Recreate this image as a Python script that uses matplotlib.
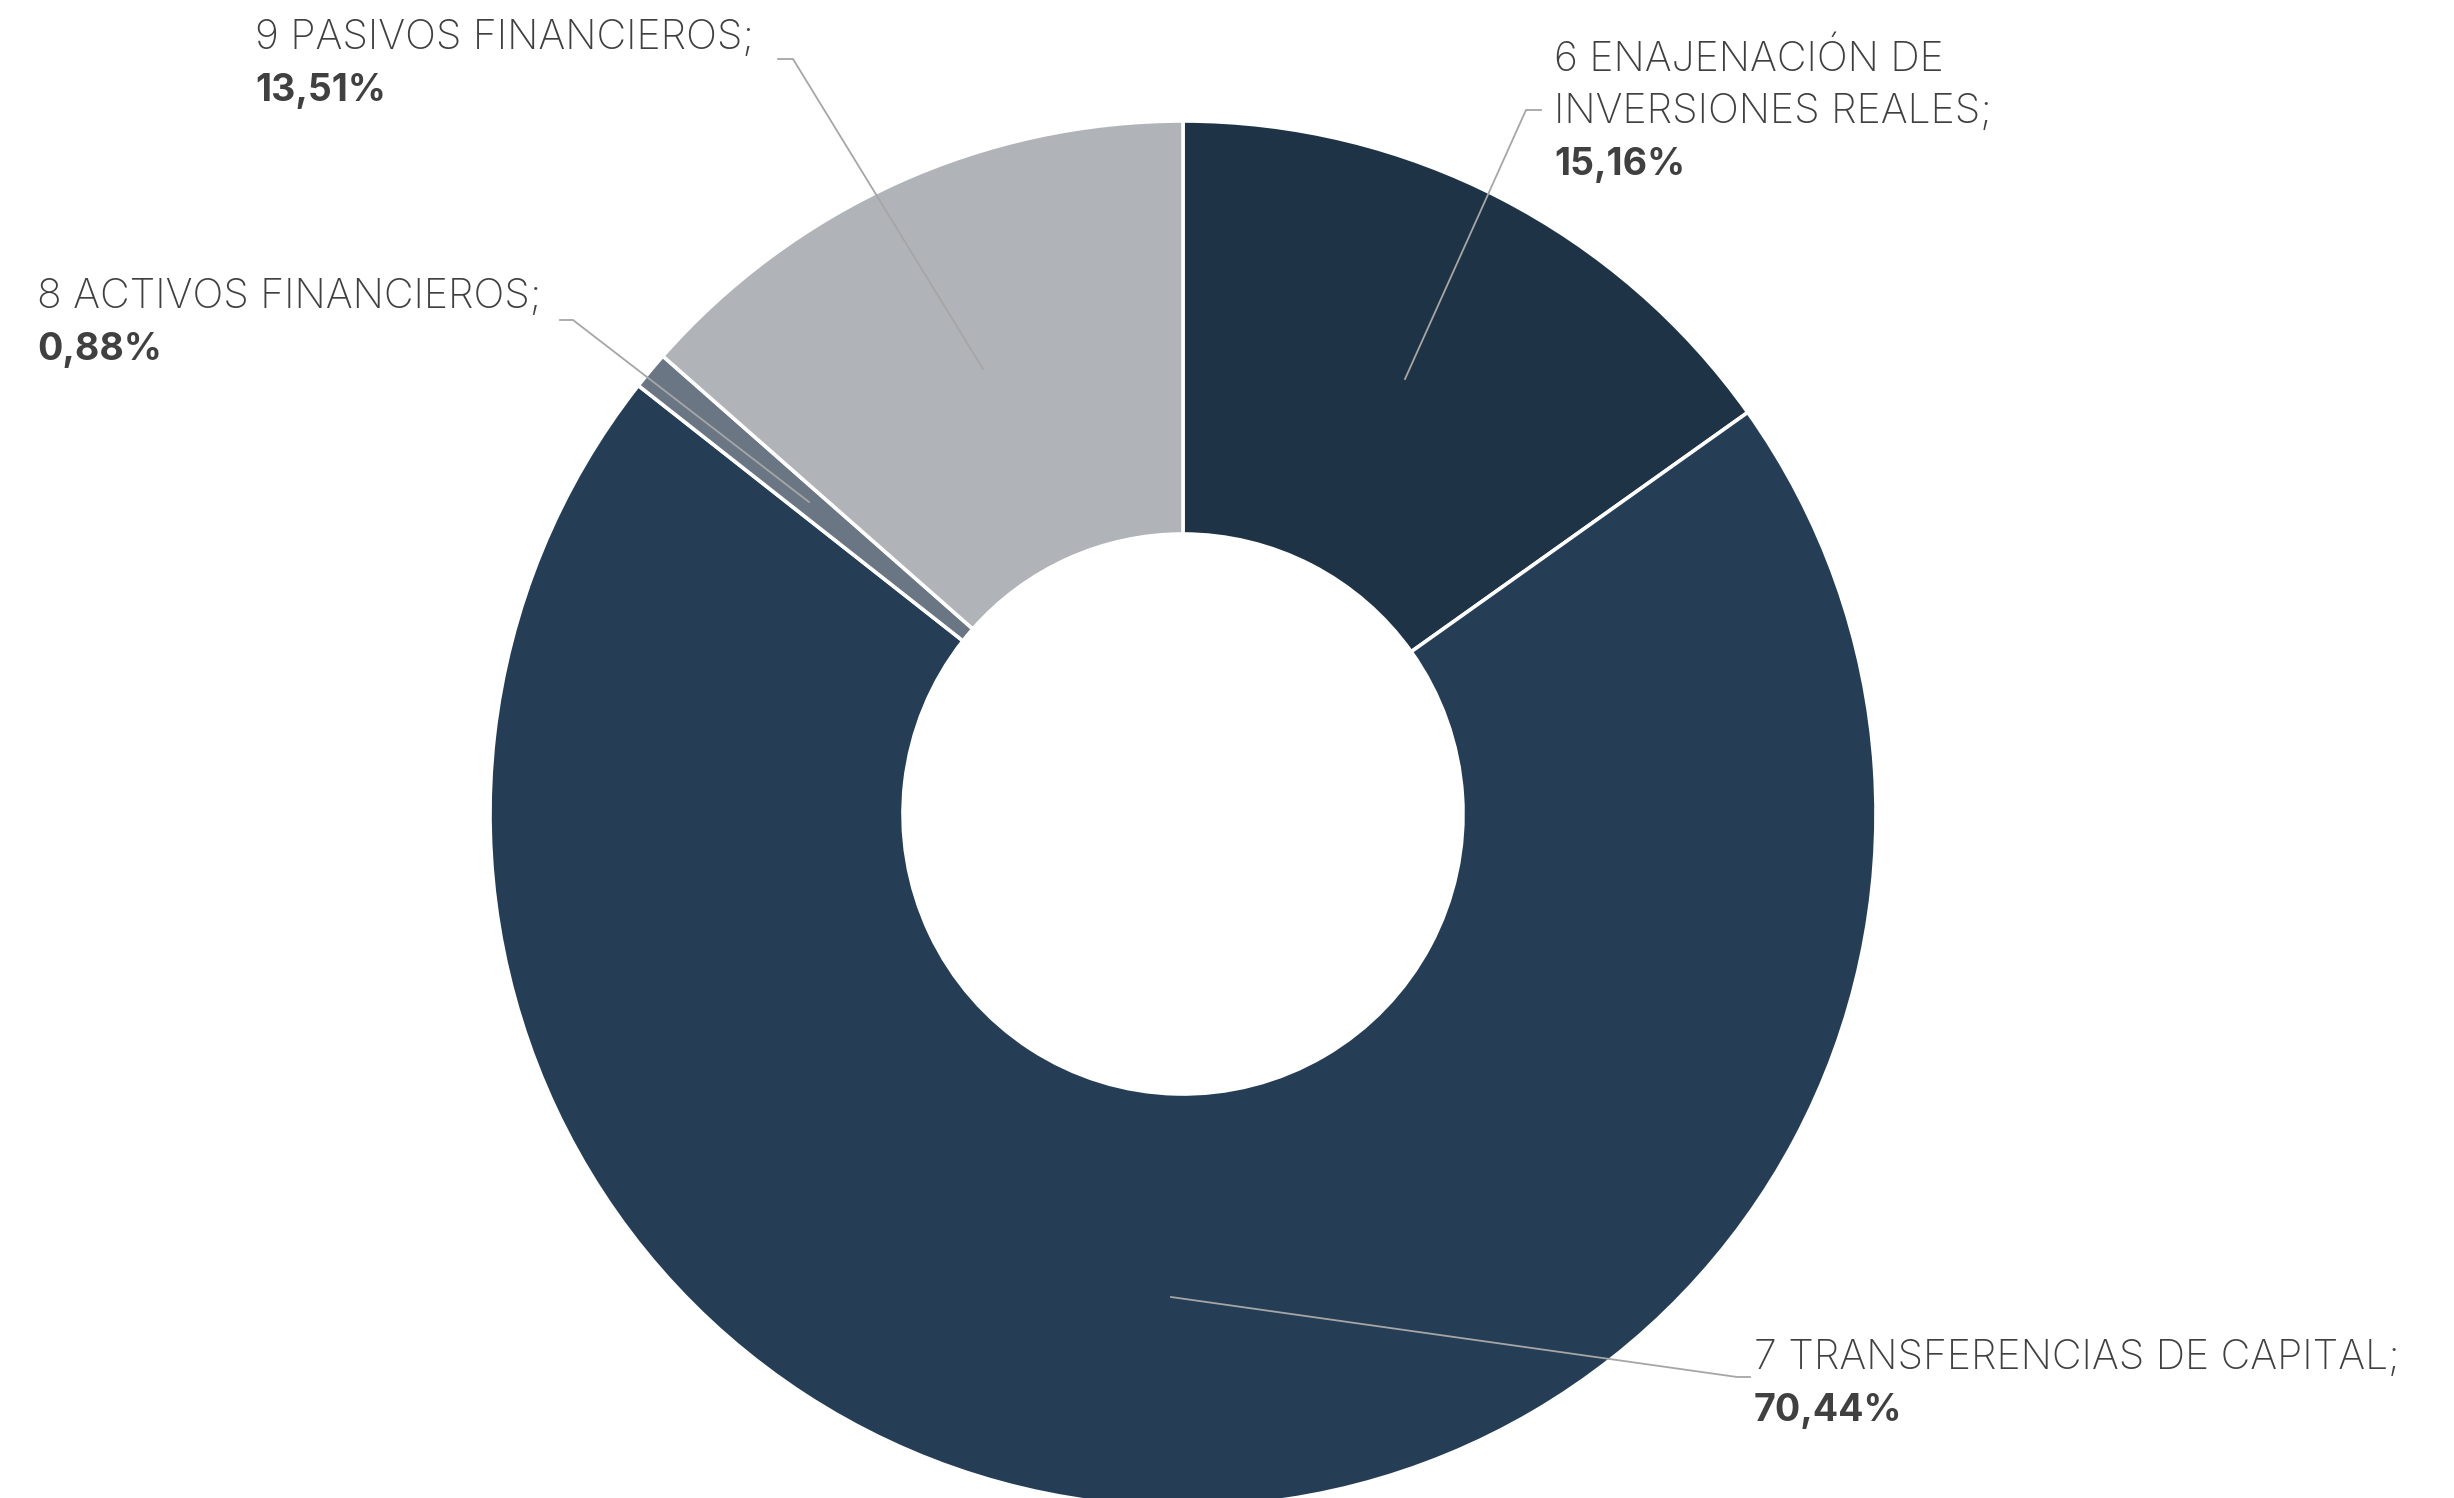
import matplotlib
matplotlib.use("Agg")
import matplotlib.pyplot as plt

categories = ["6 ENAJENACIÓN DE\nINVERSIONES REALES;", "7 TRANSFERENCIAS DE CAPITAL;",
              "8 ACTIVOS FINANCIEROS;", "9 PASIVOS FINANCIEROS;"]
values = [15.16, 70.44, 0.88, 13.51]
pct_labels = ["15,16%", "70,44%", "0,88%", "13,51%"]
colors = ["#1f3346", "#253e56", "#6b7684", "#b0b3b8"]

W, H = 2454, 1498
fig = plt.figure(figsize=(W / 100, H / 100), dpi=100)
ax = fig.add_axes([0, 0, 1, 1])
ax.set_xlim(0, W)
ax.set_ylim(0, H)
ax.set_aspect("equal")
ax.axis("off")

cx, cy, R = 1183, H - 814, 693
ax.pie(values, colors=colors, startangle=90, counterclock=False,
       center=(cx, cy), radius=R,
       wedgeprops=dict(width=R - 280, edgecolor="white", linewidth=2.6))
ax.set_xlim(0, W)
ax.set_ylim(0, H)

def Y(y):
    return H - y

line_kw = dict(color="#a6a6a6", lw=1.3, zorder=5)
leaders = [
    [(1405, 379), (1526, 110), (1541, 110)],
    [(1171, 1297), (1737, 1377), (1750, 1377)],
    [(809, 502), (573, 320), (560, 320)],
    [(983, 369), (793, 59), (778, 59)],
]
for pts in leaders:
    ax.plot([p[0] for p in pts], [Y(p[1]) for p in pts], **line_kw)

txt_color = "#404040"
fs = 29.5
fs_pct = 27
fam = ["Inter", "DejaVu Sans"]
anchors = [(1554, 71), (1754, 1369), (37, 308), (255, 49)]
lh = 52
for cat, pct, (x, yb) in zip(categories, pct_labels, anchors):
    lines = cat.split("\n")
    for i, ln in enumerate(lines):
        ax.text(x, Y(yb + i * lh), ln, fontsize=fs, family=fam, fontweight="light",
                color=txt_color, ha="left", va="baseline")
    ax.text(x, Y(yb + len(lines) * lh), pct, fontsize=fs_pct, family=fam, fontweight="bold",
            color=txt_color, ha="left", va="baseline")

fig.savefig("out.png", dpi=100, facecolor="white")
